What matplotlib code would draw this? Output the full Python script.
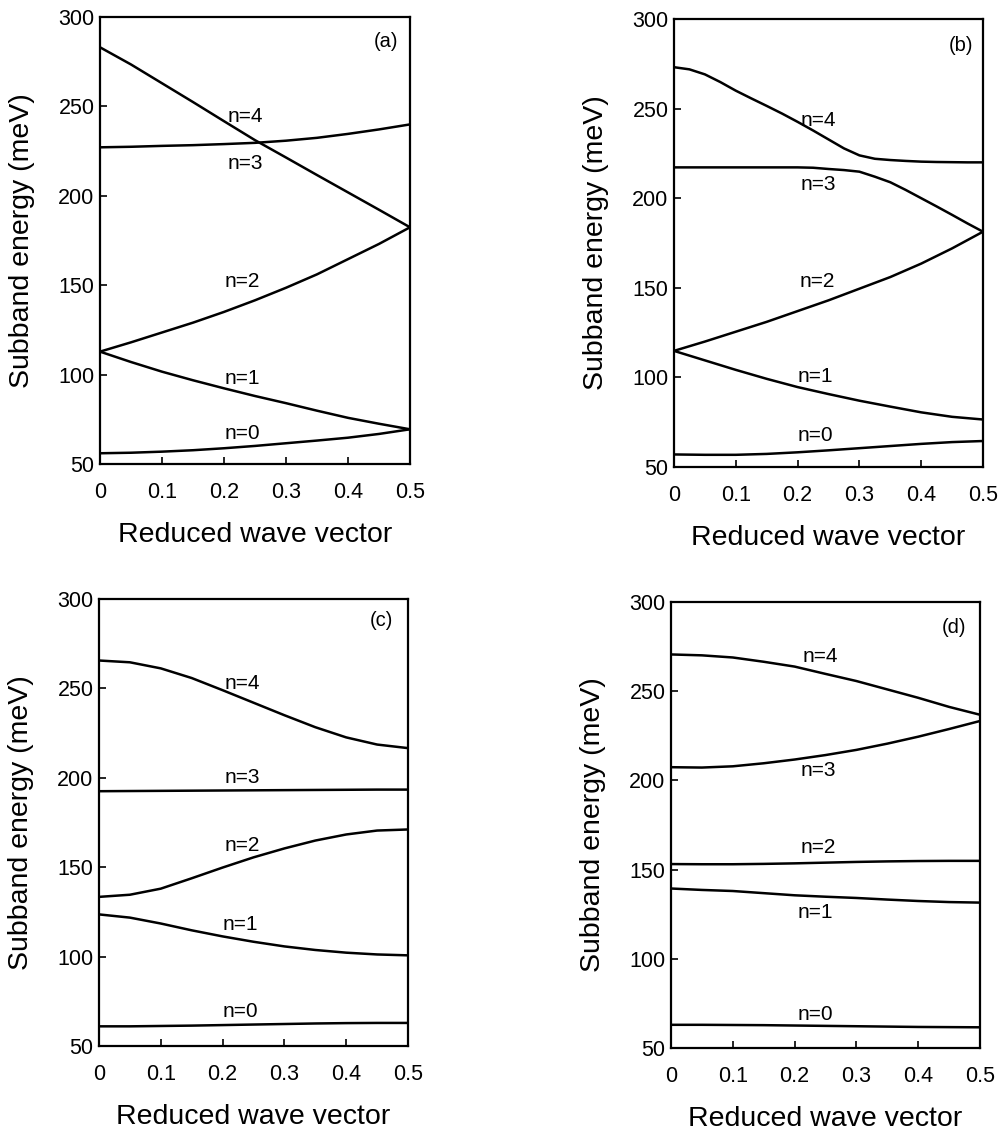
import matplotlib
matplotlib.use("Agg")
import matplotlib.pyplot as plt

# ---------------- data ----------------
k = [0.0, 0.05, 0.10, 0.15, 0.20, 0.25, 0.30, 0.35, 0.40, 0.45, 0.50]
k_fine = [0.0, 0.025, 0.05, 0.075, 0.10, 0.125, 0.15, 0.175, 0.20, 0.225, 0.25,
          0.275, 0.30, 0.325, 0.35, 0.375, 0.40, 0.425, 0.45, 0.475, 0.50]

# panel (a)
a_n0 = [56.0, 56.3, 56.9, 57.7, 58.8, 60.1, 61.6, 63.1, 64.7, 66.8, 69.4]
a_n1 = [112.8, 107.0, 101.6, 96.8, 92.3, 88.0, 84.0, 79.8, 75.8, 72.5, 69.4]
a_n2 = [112.8, 118.0, 123.5, 129.0, 135.0, 141.5, 148.5, 156.0, 164.5, 173.0, 182.3]
a_n3 = [227.0, 227.3, 227.8, 228.2, 228.8, 229.5, 230.7, 232.3, 234.5, 237.0, 239.8]
a_n4 = [282.9, 273.3, 262.8, 252.3, 241.6, 231.0, 221.3, 211.5, 201.8, 192.1, 182.3]

# panel (b)  (n=3 and n=4 read on the finer grid k_fine)
b_n0 = [57.0, 56.8, 56.8, 57.3, 58.2, 59.3, 60.5, 61.7, 62.9, 63.9, 64.5]
b_n1 = [114.8, 109.5, 104.2, 99.2, 94.6, 90.7, 87.0, 83.7, 80.5, 78.0, 76.5]
b_n2 = [114.8, 120.0, 125.5, 131.0, 137.0, 143.0, 149.5, 156.0, 163.5, 172.0, 181.3]
b_n3 = [217.2, 217.2, 217.2, 217.2, 217.2, 217.2, 217.2, 217.2, 217.2, 217.0, 216.3,
        215.7, 214.8, 212.0, 208.9, 204.6, 200.0, 195.4, 190.7, 185.9, 181.3]
b_n4 = [273.1, 271.9, 269.1, 264.8, 260.0, 255.7, 251.5, 247.2, 242.6, 237.8, 232.8,
        227.8, 223.9, 222.0, 221.3, 220.8, 220.4, 220.2, 220.1, 220.0, 220.0]

# panel (c)
c_n0 = [61.0, 61.0, 61.2, 61.4, 61.7, 62.0, 62.3, 62.6, 62.8, 62.9, 62.9]
c_n1 = [123.6, 121.8, 118.5, 114.7, 111.3, 108.3, 105.7, 103.7, 102.2, 101.2, 100.7]
c_n2 = [133.4, 134.6, 138.0, 143.8, 149.8, 155.5, 160.5, 164.9, 168.3, 170.5, 171.1]
c_n3 = [192.5, 192.6, 192.7, 192.8, 192.9, 193.0, 193.1, 193.2, 193.3, 193.4, 193.4]
c_n4 = [265.6, 264.6, 261.2, 255.8, 249.0, 242.0, 235.0, 228.3, 222.6, 218.6, 216.6]

# panel (d)
d_n0 = [63.0, 63.0, 62.9, 62.8, 62.6, 62.4, 62.2, 62.0, 61.8, 61.7, 61.6]
d_n1 = [139.4, 138.6, 138.0, 136.8, 135.6, 134.8, 134.1, 133.2, 132.4, 131.8, 131.5]
d_n2 = [153.1, 153.0, 153.0, 153.2, 153.5, 153.9, 154.3, 154.6, 154.8, 154.9, 154.9]
d_n3 = [207.4, 207.2, 207.9, 209.6, 211.7, 214.2, 217.1, 220.6, 224.5, 228.8, 233.3]
d_n4 = [270.6, 270.1, 268.9, 266.5, 263.8, 259.7, 255.7, 251.0, 246.3, 241.2, 236.8]

band_names = ["n=0", "n=1", "n=2", "n=3", "n=4"]
panel_tags = ["(a)", "(b)", "(c)", "(d)"]
x_ticks = [0, 0.1, 0.2, 0.3, 0.4, 0.5]
x_tick_labels = ["0", "0.1", "0.2", "0.3", "0.4", "0.5"]
y_ticks = [50, 100, 150, 200, 250, 300]
x_label = "Reduced wave vector"
y_label = "Subband energy (meV)"

panels = [
    [(k, a_n0), (k, a_n1), (k, a_n2), (k, a_n3), (k, a_n4)],
    [(k, b_n0), (k, b_n1), (k, b_n2), (k_fine, b_n3), (k_fine, b_n4)],
    [(k, c_n0), (k, c_n1), (k, c_n2), (k, c_n3), (k, c_n4)],
    [(k, d_n0), (k, d_n1), (k, d_n2), (k, d_n3), (k, d_n4)],
]

# ---------------- layout / style ----------------
# label anchor positions (x, E) for n=0..4, per panel
label_pos = [
    [(0.229, 66.8), (0.229, 97.9), (0.229, 151.9), (0.234, 218.0), (0.234, 244.5)],
    [(0.229, 67.6), (0.229, 100.4), (0.232, 153.7), (0.234, 207.4), (0.234, 243.5)],
    [(0.229, 69.4), (0.229, 118.0), (0.232, 162.2), (0.232, 200.3), (0.232, 252.8)],
    [(0.233, 69.0), (0.233, 126.2), (0.238, 162.4), (0.238, 205.6), (0.241, 269.7)],
]
tag_pos = [(0.4605, 286.0), (0.464, 285.2), (0.457, 288.0), (0.458, 285.6)]

W, H = 1003, 1132
# axes boxes in pixels: left, top, right, bottom
boxes = [
    (100, 16.7, 410, 464),
    (674, 19, 983, 467),
    (99, 599, 408, 1046),
    (671, 602, 980, 1048),
]

plt.rcParams['font.family'] = ['Liberation Sans', 'DejaVu Sans']

fig = plt.figure(figsize=(W / 100, H / 100), dpi=100)
fig.patch.set_facecolor("white")

for i, (bands, box) in enumerate(zip(panels, boxes)):
    l, t, r, b = box
    ax = fig.add_axes([l / W, 1 - b / H, (r - l) / W, (b - t) / H])
    for xs, vals in bands:
        ax.plot(xs, vals, color="black", lw=1.8, solid_joinstyle="round")
    for name, (px, py) in zip(band_names, label_pos[i]):
        ax.text(px, py, name, ha="center", va="center", fontsize=15, color="black")
    ax.text(tag_pos[i][0], tag_pos[i][1], panel_tags[i], ha="center", va="center",
            fontsize=14.5, color="black")
    ax.set_xlim(0, 0.5)
    ax.set_ylim(50, 300)
    ax.set_xticks(x_ticks)
    ax.set_xticklabels(x_tick_labels)
    ax.set_yticks(y_ticks)
    ax.tick_params(axis="both", direction="in", length=5, width=1.2,
                   labelsize=15.5, top=False, right=False)
    ax.tick_params(axis="x", pad=13)
    ax.tick_params(axis="y", pad=4)
    for sp in ax.spines.values():
        sp.set_linewidth(1.6)
        sp.set_color("black")
    wpx, hpx = r - l, b - t
    ax.set_xlabel(x_label, fontsize=20.5, va="center")
    ax.xaxis.set_label_coords(0.5, -71 / hpx)
    ax.set_ylabel(y_label, fontsize=20.5, va="center")
    ax.yaxis.set_label_coords(-78 / wpx, 0.5)

fig.savefig("out.png", dpi=100, facecolor="white")
